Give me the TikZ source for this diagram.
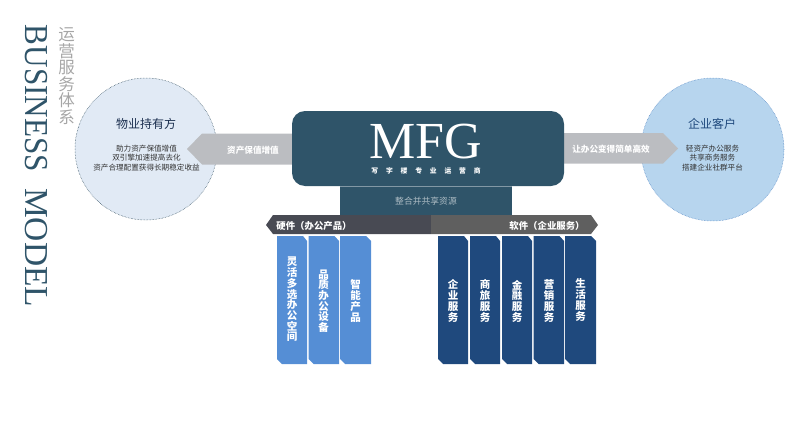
\documentclass[tikz,border=0pt]{standalone}
\usepackage{fontspec}
\setmainfont{Liberation Serif}
\newfontfamily\cjk{Noto Sans CJK SC}
\newfontfamily\cjkspaced[LetterSpace=115]{Noto Sans CJK SC}
\definecolor{teal}{HTML}{2F5469}
\definecolor{ltblue}{HTML}{E1EAF5}
\definecolor{skyb}{HTML}{B7D5EE}
\definecolor{arrowgray}{HTML}{BBBDC1}
\definecolor{barblue}{HTML}{558ED5}
\definecolor{bardark}{HTML}{1F497D}
\definecolor{bandl}{HTML}{484A53}
\definecolor{bandr}{HTML}{5F5F5F}
\definecolor{navy}{HTML}{1B2F4F}
\tikzset{
  x=1pt,y=-1pt,
  circbox/.style={circle,minimum size=142pt,inner sep=0pt,line width=.5pt,densely dotted},
  title/.style={font=\cjk\fontsize{12}{14}\selectfont,text=navy},
  small/.style={font=\cjk\fontsize{7.6}{9.4}\selectfont,text=black!80,align=center},
  wlabel/.style={font=\cjk\bfseries\fontsize{8.6}{10}\selectfont,text=white},
  barlabel/.style={font=\cjk\bfseries\fontsize{10.5}{10.7}\selectfont,text=white,align=center},
  bandlabel/.style={font=\cjk\bfseries\fontsize{9.4}{11}\selectfont,text=white},
}
\newcommand{\barshape}[3]{\fill[#3] (#1,236) -- (#1+26,236) -- (#2,241) -- (#2,364) -- (#1+5,364) -- (#1,359) -- cycle;}
\begin{document}
\begin{tikzpicture}
\useasboundingbox (0,0) rectangle (789,444);
% heading
\node[rotate=-90,font=\fontsize{33.5}{36}\selectfont,text=teal,inner sep=0pt] (heading) at (36,166) {\scalebox{0.93}[1]{BUSINESS}\hspace{16pt}MODEL};
\node[font=\cjk\fontsize{16.5}{16.5}\selectfont,text=black!35,align=center,inner sep=0pt] (subhead) at (66.5,76) {运\\营\\服\\务\\体\\系};
% circles
\node[circbox,fill=ltblue,draw=teal!80!black] (left) at (146,149) {};
\node[circbox,fill=skyb,draw=barblue!90!black,minimum size=143pt] (right) at (712.5,149.5) {};
\node[title] (lefttitle) at (146,123.5) {物业持有方};
\node[small] (lefttext) at (146.5,158) {助力资产保值增值\\双引擎加速提高去化\\资产合理配置获得长期稳定收益};
\node[title,text=bardark] (righttitle) at (712,123.5) {企业客户};
\node[small] (righttext) at (712.5,158) {轻资产办公服务\\共享商务服务\\搭建企业社群平台};
% arrows
\fill[arrowgray] (187,149) -- (202,133.5) -- (300,133.5) -- (300,164.5) -- (202,164.5) -- cycle;
\fill[arrowgray] (555,133) -- (663,133) -- (678,148.5) -- (663,163.5) -- (555,163.5) -- cycle;
\node[wlabel] (leftlabel) at (253,150) {资产保值增值};
\node[wlabel] (rightlabel) at (611,149.5) {让办公变得简单高效};
% central block
\fill[teal] (340,180) rectangle (512,215);
\fill[teal,rounded corners=13pt] (292,111) rectangle (564,186);
\draw[white!40!teal,line width=.4pt] (340,186) -- (512,186);
\node[font=\fontsize{52}{55}\selectfont,text=white,inner sep=0pt] (mfg) at (426,142) {MFG};
\node[font=\cjkspaced\bfseries\fontsize{6.8}{8}\selectfont,text=white,inner sep=0pt] (sub) at (426,171) {写字楼专业运营商};
\node[font=\cjk\fontsize{8.8}{10}\selectfont,text=white!60!teal] (share) at (426,201) {整合并共享资源};
% band
\fill[bandl] (266,225) -- (273,215) -- (431,215) -- (431,234) -- (273,234) -- cycle;
\fill[bandr] (431,215) -- (591,215) -- (598,225) -- (591,234) -- (431,234) -- cycle;
\node[bandlabel] (hw) at (314,226) {硬件（办公产品）};
\node[bandlabel] (sw) at (547,226) {软件（企业服务）};
% bars
\barshape{277}{307}{barblue}
\barshape{308.5}{339}{barblue}
\barshape{340}{371}{barblue}
\barshape{438}{468}{bardark}
\barshape{470}{500}{bardark}
\barshape{502}{532}{bardark}
\barshape{533.5}{564}{bardark}
\barshape{565}{596}{bardark}
\node[barlabel] (b1) at (292,299.5) {灵\\活\\多\\选\\办\\公\\空\\间};
\node[barlabel] (b2) at (323.5,301) {品\\质\\办\\公\\设\\备};
\node[barlabel] (b3) at (355.5,301) {智\\能\\产\\品};
\node[barlabel] (b4) at (453,301) {企\\业\\服\\务};
\node[barlabel] (b5) at (485,301) {商\\旅\\服\\务};
\node[barlabel] (b6) at (517,301) {金\\融\\服\\务};
\node[barlabel] (b7) at (549,301) {营\\销\\服\\务};
\node[barlabel] (b8) at (580.5,300) {生\\活\\服\\务};
\end{tikzpicture}
\end{document}
